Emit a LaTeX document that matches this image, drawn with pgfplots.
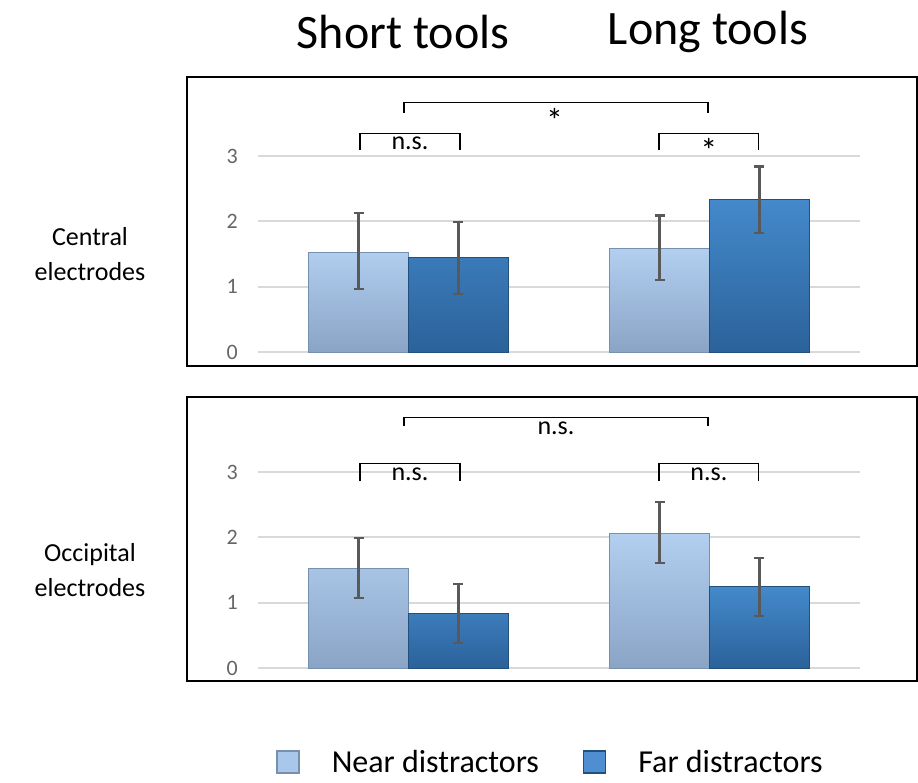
\documentclass[border=0pt]{standalone}
\usepackage{fontspec}
\setmainfont{Carlito}
\usepackage{pgfplots}
\pgfplotsset{compat=1.18}
\definecolor{nearT}{HTML}{B2CFF0}
\definecolor{nearB}{HTML}{8AA4C6}
\definecolor{nearE}{HTML}{7890B0}
\definecolor{nearL}{HTML}{A8C7EB}
\definecolor{farT}{HTML}{4489CB}
\definecolor{farB}{HTML}{2B629A}
\definecolor{farE}{HTML}{22507D}
\definecolor{farL}{HTML}{4F8ED0}
\definecolor{errc}{HTML}{595959}
\definecolor{tickc}{HTML}{666666}
\definecolor{gridc}{HTML}{D9D9D9}
\pgfplotsset{
  panel/.style={
    width=602pt, height=196pt, scale only axis,
    xmin=-0.5, xmax=1.5, ymin=0, ymax=3,
    axis line style={draw=none},
    xtick=\empty, ytick={0,1,2,3},
    ymajorgrids, grid style={gridc, line width=2pt},
    major tick length=0pt,
    yticklabel style={font=\fontsize{22}{22}\selectfont, text=tickc, inner sep=0pt, xshift=-20pt},
    /pgf/number format/assume math mode=true,
    clip=false,
  },
  nearbar/.style={ybar, bar shift=0pt, bar width=0.332, top color=nearT, bottom color=nearB, draw=nearE, line width=1pt,
     error bars/.cd, y dir=both, y explicit, error bar style={errc, line width=2.2pt}, error mark options={rotate=90, mark size=5pt, errc, line width=2.2pt}},
  farbar/.style={ybar, bar shift=0pt, bar width=0.332, top color=farT, bottom color=farB, draw=farE, line width=1pt,
     error bars/.cd, y dir=both, y explicit, error bar style={errc, line width=2.2pt}, error mark options={rotate=90, mark size=5pt, errc, line width=2.2pt}},
}
\newcommand{\nsfont}{\fontsize{26}{26}\selectfont}
\newcommand{\starfont}{\fontsize{34}{34}\selectfont}
\begin{document}
\begin{tikzpicture}
\path[use as bounding box] (-258pt,352pt) rectangle (660pt,-430pt);
% titles
\node[font=\fontsize{48}{48}\selectfont] at (145pt,320pt) {Short tools};
\node[font=\fontsize{48}{48}\selectfont] at (450pt,320pt) {Long tools};
% row labels
\node[font=\fontsize{26}{35}\selectfont, align=center] at (-168pt,98pt) {Central\\electrodes};
\node[font=\fontsize{26}{35}\selectfont, align=center] at (-168pt,-218pt) {Occipital\\electrodes};

\begin{axis}[panel, at={(0pt,0pt)}, anchor=south west]
\addplot[nearbar] coordinates {(-0.166,1.53) += (0,0.60) -= (0,0.57) (0.834,1.58) += (0,0.51) -= (0,0.48)};
\addplot[farbar] coordinates {(0.166,1.44) += (0,0.55) -= (0,0.555) (1.166,2.33) += (0,0.51) -= (0,0.51)};
\draw[black, line width=1.2pt] (axis cs:-0.161,3.085) -- (axis cs:-0.161,3.34) -- (axis cs:0.171,3.34) -- (axis cs:0.171,3.085);
\node[font=\nsfont] at (axis cs:0.005,3.19) {n.s.};
\draw[black, line width=1.2pt] (axis cs:0.832,3.085) -- (axis cs:0.832,3.34) -- (axis cs:1.164,3.34) -- (axis cs:1.164,3.085);
\node[font=\starfont] at (axis cs:0.998,3.08) {*};
\draw[black, line width=1.2pt] (axis cs:-0.015,3.665) -- (axis cs:-0.015,3.815) -- (axis cs:0.995,3.815) -- (axis cs:0.995,3.665);
\node[font=\starfont] at (axis cs:0.485,3.54) {*};
\end{axis}

\begin{axis}[panel, at={(0pt,-316pt)}, anchor=south west,
  legend style={at={(0.03,-0.48)}, anchor=west, draw=none, fill=none, inner sep=0pt,
    font=\fontsize{32}{32}\selectfont, legend columns=2,
    /tikz/every even column/.append style={column sep=42pt},
    /tikz/every odd column/.append style={column sep=30pt}},
  legend cell align=left]
\addplot[forget plot, nearbar] coordinates {(-0.166,1.53) += (0,0.465) -= (0,0.455) (0.834,2.06) += (0,0.48) -= (0,0.45)};
\addplot[forget plot, farbar] coordinates {(0.166,0.84) += (0,0.44) -= (0,0.46) (1.166,1.24) += (0,0.44) -= (0,0.44)};
\addlegendimage{legend image code/.code={\draw[fill=nearL, draw=nearE, line width=1.5pt] (0pt,-11pt) rectangle (22pt,11pt);}}
\addlegendentry{Near distractors}
\addlegendimage{legend image code/.code={\draw[fill=farL, draw=farE, line width=1.5pt] (0pt,-11pt) rectangle (22pt,11pt);}}
\addlegendentry{Far distractors}
\draw[black, line width=1.2pt] (axis cs:-0.161,2.86) -- (axis cs:-0.161,3.13) -- (axis cs:0.171,3.13) -- (axis cs:0.171,2.86);
\node[font=\nsfont] at (axis cs:0.005,2.96) {n.s.};
\draw[black, line width=1.2pt] (axis cs:0.832,2.86) -- (axis cs:0.832,3.13) -- (axis cs:1.164,3.13) -- (axis cs:1.164,2.86);
\node[font=\nsfont] at (axis cs:0.998,2.96) {n.s.};
\draw[black, line width=1.2pt] (axis cs:-0.015,3.71) -- (axis cs:-0.015,3.83) -- (axis cs:0.995,3.83) -- (axis cs:0.995,3.71);
\node[font=\nsfont] at (axis cs:0.49,3.67) {n.s.};
\end{axis}

% frames
\draw[black, line width=2.5pt] (-71pt,-14pt) rectangle (659pt,275pt);
\draw[black, line width=2.5pt] (-71pt,-329pt) rectangle (659pt,-45pt);
\end{tikzpicture}
\end{document}
